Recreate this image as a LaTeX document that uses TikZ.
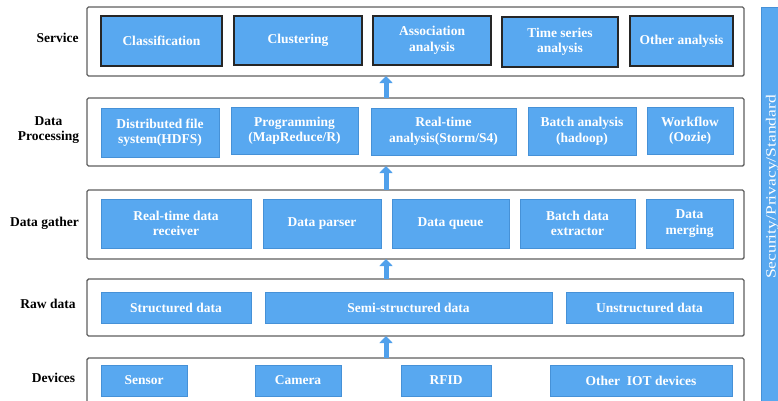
\documentclass[tikz,border=0pt]{standalone}
\usepackage{fontspec}
\setmainfont{Liberation Serif}
\usetikzlibrary{arrows.meta}
\definecolor{boxblue}{RGB}{88,168,240}
\definecolor{edgeblue}{RGB}{70,145,215}
\definecolor{arrowblue}{RGB}{80,160,235}
\definecolor{framegray}{RGB}{95,95,95}
\newcommand\cellfont{\fontsize{13.5}{15.5}\selectfont\bfseries}
\tikzset{
  layer/.style={draw=framegray, line width=1.4pt, rounded corners=1.5pt, fill=white},
  svc/.style={draw=black!85, line width=1.4pt, fill=boxblue, text=white},
  cell/.style={draw=edgeblue, line width=0.8pt, fill=boxblue, text=white},
  lbl/.style={font=\cellfont, align=center, text=black},
  uparrow/.style={line width=5pt, draw=arrowblue, -{Triangle[width=13pt,length=7pt]}},
}
\newcommand\bx[7]{\node[#6, inner sep=0pt, outer sep=0pt, font=\cellfont, align=center,
  minimum width={(#4-#2)*1pt}, minimum height={(#5-#3)*1pt}]
  (#1) at ({(#2+#4)/2},{(#3+#5)/2}) {#7};}
\begin{document}
\begin{tikzpicture}[x=1pt,y=-1pt]
\useasboundingbox (0,0) rectangle (778,400);
% layers
\bx{sv}{87}{7}{744}{76}{layer}{}
\bx{dp}{87}{98}{744}{166}{layer}{}
\bx{dg}{87}{190}{744}{259}{layer}{}
\bx{rd}{87}{279}{744}{336}{layer}{}
\bx{dv}{87}{358}{744}{412}{layer}{}
% side bar
\bx{sec}{761}{7}{800}{412}{cell}{}
\node[rotate=90, anchor=base, text=white, inner sep=0pt, font=\fontsize{14}{16}\selectfont] (sectxt) at (775.5,187) {\scalebox{1.25}[1]{Security/Privacy/Standard}};
% service
\bx{c1}{101}{16}{222}{66}{svc}{Classification}
\bx{c2}{234}{16}{362}{65}{svc}{Clustering}
\bx{c3}{373}{16}{491}{65}{svc}{Association\\analysis}
\bx{c4}{502}{17}{618}{67}{svc}{Time series\\analysis}
\bx{c5}{630}{16}{733}{66}{svc}{Other analysis}
% processing
\bx{p1}{101}{108}{219}{157}{cell}{Distributed file\\system(HDFS)}
\bx{p2}{231}{107}{358}{154}{cell}{Programming\\(MapReduce/R)}
\bx{p3}{371}{108}{516}{155}{cell}{Real-time\\analysis(Storm/S4)}
\bx{p4}{528}{107}{636}{155}{cell}{Batch analysis\\(hadoop)}
\bx{p5}{647}{107}{733}{154}{cell}{Workflow\\(Oozie)}
% gather
\bx{g1}{101}{199}{251}{248}{cell}{Real-time data\\receiver}
\bx{g2}{263}{199}{381}{248}{cell}{Data parser}
\bx{g3}{392}{199}{509}{248}{cell}{Data queue}
\bx{g4}{520}{199}{635}{248}{cell}{Batch data\\extractor}
\bx{g5}{646}{199}{733}{248}{cell}{Data\\merging}
% raw data
\bx{r1}{101}{292}{251}{323}{cell}{Structured data}
\bx{r2}{265}{292}{552}{323}{cell}{Semi-structured data}
\bx{r3}{566}{292}{733}{323}{cell}{Unstructured data}
% devices
\bx{d1}{101}{365}{187}{396}{cell}{Sensor}
\bx{d2}{255}{365}{341}{396}{cell}{Camera}
\bx{d3}{401}{365}{491}{396}{cell}{RFID}
\bx{d4}{550}{365}{732}{396}{cell}{Other\ \ IOT devices}
% labels
\node[lbl] (lsv) at (57.5,38) {Service};
\node[lbl] (ldp) at (48.5,130) {Data\\Processing};
\node[lbl] (ldg) at (44.5,223) {Data gather};
\node[lbl] (lrd) at (48,304) {Raw data};
\node[lbl] (ldv) at (53.5,378) {Devices};
% arrows
\coordinate (ax) at (386,0);
\draw[uparrow] (dp.north -| ax) -- (sv.south -| ax);
\draw[uparrow] (dg.north -| ax) -- (dp.south -| ax);
\draw[uparrow] (rd.north -| ax) -- (dg.south -| ax);
\draw[uparrow] (dv.north -| ax) -- (rd.south -| ax);
\end{tikzpicture}
\end{document}
